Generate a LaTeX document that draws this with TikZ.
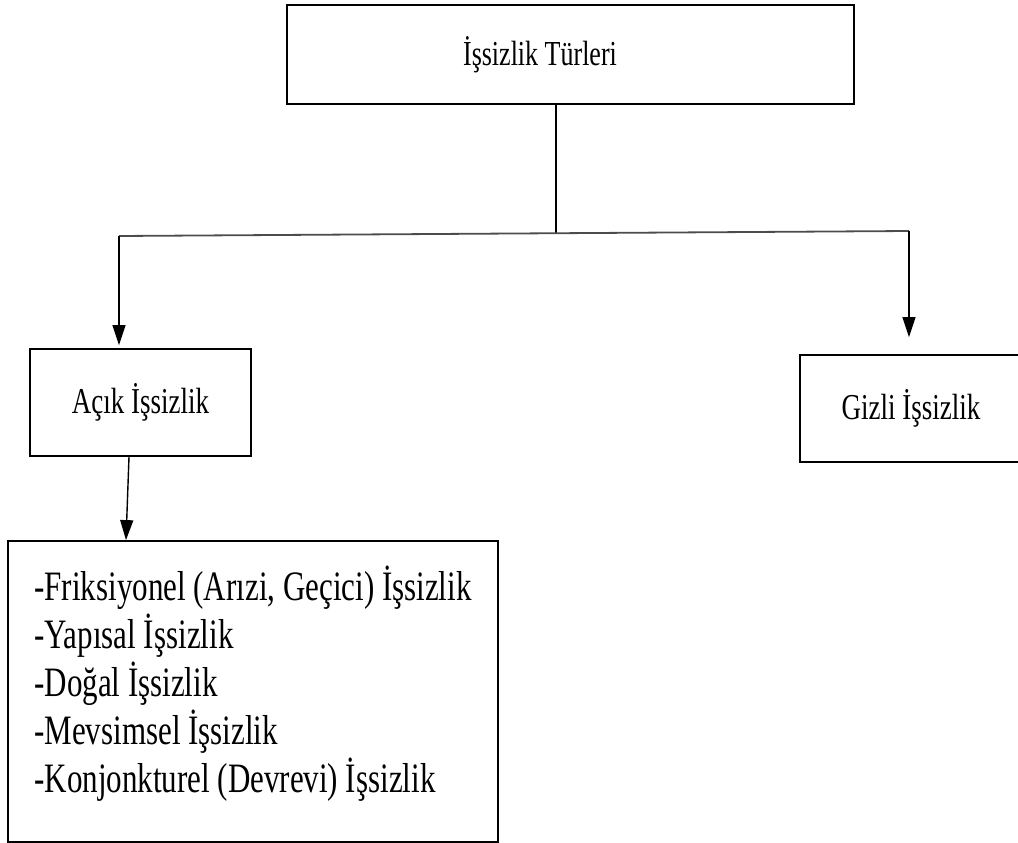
\documentclass[tikz,border=0pt]{standalone}
\usepackage{fontspec}
\usepackage{graphicx}
\setmainfont{Liberation Serif}
\usetikzlibrary{arrows.meta}

\newcommand{\tall}[1]{\scalebox{1}[1.35]{#1}}
\tikzstyle{block} = [draw, rectangle, line width=1.8pt, inner sep=0pt]
\tikzstyle{line} = [draw, line width=1.4pt]

\begin{document}
\begin{tikzpicture}[x=1pt, y=-1pt, >={Triangle[width=13pt,length=20pt]}]
  \useasboundingbox (0,0) rectangle (1018,843);
  \node [block, minimum width=567, minimum height=99,
         font=\fontsize{26}{30}\selectfont] (turleri) at (570.5,54.5)
        {\tall{İşsizlik Türleri}\hspace*{61pt}};
  \node [block, minimum width=221, minimum height=107,
         font=\fontsize{27}{32}\selectfont] (acik) at (140.5,402.5) {\tall{Açık İşsizlik}};
  \node [block, minimum width=222, minimum height=107,
         font=\fontsize{27}{32}\selectfont] (gizli) at (911,408.5) {\tall{Gizli İşsizlik}};
  \node [block, minimum width=490, minimum height=301, align=left, text depth=25pt,
         font=\fontsize{31}{48}\selectfont] (alt) at (253,691.5)
        {\tall{-Friksiyonel (Arızi, Geçici) İşsizlik}\\
         \tall{-Yapısal İşsizlik}\\
         \tall{-Doğal İşsizlik}\\
         \tall{-Mevsimsel İşsizlik}\\
         \tall{-Konjonkturel (Devrevi) İşsizlik}};
  \coordinate (split) at (556,234);
  \coordinate (l) at (119,236);
  \coordinate (r) at (909,231);
  \coordinate (a) at (129,0);
  \coordinate (b) at (126,0);

  \draw [line] (turleri.south -| split) -- (split);
  \draw [line, draw=black!70, line width=1.8pt] (l) -- (r);
  \draw [line, ->, shorten >=3pt] (l) -- (l |- acik.north);
  \draw [line, ->, shorten >=17pt] (r) -- (r |- gizli.north);
  \draw [line, ->] (acik.south -| a) -- (alt.north -| b);
\end{tikzpicture}
\end{document}
